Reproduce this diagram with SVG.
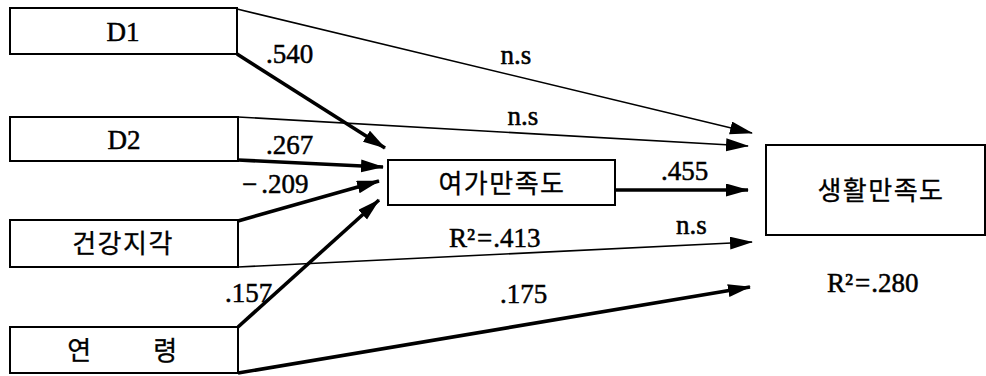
<svg xmlns="http://www.w3.org/2000/svg" width="986" height="376" viewBox="0 0 986 376">
  <style>
    .box { fill: #ffffff; stroke: #000000; stroke-width: 2; }
    .kr { font-family: "Noto Sans CJK KR", "Noto Sans", sans-serif; font-size: 26px; fill: #000; stroke: #000; stroke-width: 0.3px; text-anchor: middle; letter-spacing: 1.5px; }
    .lat { font-family: "Liberation Serif", "Times New Roman", serif; font-size: 27px; fill: #000; stroke: #000; stroke-width: 0.5px; }
    .mid { text-anchor: middle; }
    .thin { stroke: #000; stroke-width: 1.6; fill: none; marker-end: url(#head); }
    .thick { stroke: #000; stroke-width: 3.6; fill: none; marker-end: url(#head); }
  </style>
  <defs>
    <marker id="head" markerUnits="userSpaceOnUse" markerWidth="24" markerHeight="14" refX="22" refY="6.5" orient="auto">
      <path d="M0,0 L23,6.5 L0,13 z" fill="#000"/>
    </marker>
  </defs>
  <rect width="986" height="376" fill="#ffffff"/>

  <!-- connectors -->
  <g id="connectors">
    <line class="thin" x1="237" y1="9" x2="752" y2="133"/>
    <line class="thick" x1="237" y1="54" x2="385" y2="148"/>
    <line class="thin" x1="238" y1="117" x2="748" y2="146"/>
    <line class="thick" x1="238" y1="160" x2="383" y2="167"/>
    <line class="thick" x1="238" y1="221" x2="379" y2="181"/>
    <line class="thick" x1="238" y1="327" x2="379" y2="200"/>
    <line class="thin" x1="238" y1="267" x2="752" y2="242"/>
    <line class="thick" x1="238" y1="373" x2="750" y2="287"/>
    <line class="thick" x1="615" y1="190" x2="748" y2="190"/>
  </g>

  <!-- coefficient labels -->
  <g id="labels">
    <text class="lat" x="266" y="63">.540</text>
    <text class="lat mid" x="516" y="64">n.s</text>
    <text class="lat mid" x="523" y="125">n.s</text>
    <text class="lat" x="266" y="154">.267</text>
    <text class="lat" x="242" y="193">−<tspan dx="4">.209</tspan></text>
    <text class="lat" x="661" y="180">.455</text>
    <text class="lat" x="449" y="247">R²<tspan dx="2">=</tspan><tspan dx="1">.413</tspan></text>
    <text class="lat" x="676" y="234">n.s</text>
    <text class="lat" x="500" y="303">.175</text>
    <text class="lat" x="225" y="302">.157</text>
    <text class="lat" x="827" y="292">R²<tspan dx="2">=</tspan><tspan dx="1">.280</tspan></text>
  </g>

  <g id="d1">
    <rect class="box" x="10" y="8" width="227" height="46"/>
    <text class="lat mid" x="123" y="41">D1</text>
  </g>
  <g id="d2">
    <rect class="box" x="10" y="117" width="228" height="44"/>
    <text class="lat mid" x="124" y="149">D2</text>
  </g>
  <g id="health">
    <rect class="box" x="10" y="220" width="228" height="47"/>
    <text class="kr" x="123" y="253">건강지각</text>
  </g>
  <g id="age">
    <rect class="box" x="10" y="327" width="228" height="46"/>
    <text class="kr" x="80" y="360">연</text>
    <text class="kr" x="166" y="360">령</text>
  </g>
  <g id="leisure">
    <rect class="box" x="388" y="160" width="227" height="45"/>
    <text class="kr" x="502" y="193">여가만족도</text>
  </g>
  <g id="life">
    <rect class="box" x="766" y="145" width="219" height="90"/>
    <text class="kr" x="881" y="200">생활만족도</text>
  </g>
</svg>
